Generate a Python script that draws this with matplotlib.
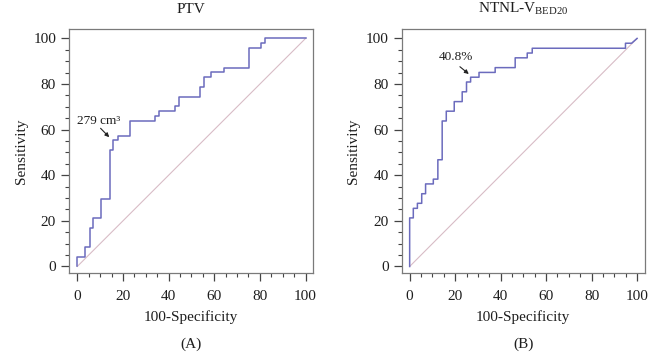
import numpy as np
import matplotlib
matplotlib.use("Agg")
import matplotlib.pyplot as plt
from matplotlib.ticker import MultipleLocator

plt.rcParams['font.family'] = ['Liberation Serif', 'DejaVu Serif']
plt.rcParams['mathtext.fontset'] = 'custom'
plt.rcParams['mathtext.rm'] = 'Liberation Serif'
plt.rcParams['mathtext.it'] = 'Liberation Serif:italic'

# Panel A: PTV
ptv_fpr = [0, 3.5, 5.5, 7.0, 10.5, 14.3, 15.8, 18.0, 23.0, 34.0, 35.6, 42.8, 44.4,
           53.6, 55.3, 58.8, 64.1, 75.2, 80.3, 82.2, 100]
ptv_tpr = [0, 4.3, 8.5, 17.0, 21.3, 29.8, 51.1, 55.3, 57.4, 63.8, 66.0, 68.1, 70.2,
           74.5, 78.7, 83.0, 85.1, 87.2, 95.7, 97.9, 100]

# Panel B: NTNL-V_BED20
ntnl_fpr = [0, 1.6, 3.4, 5.3, 7.0, 10.4, 12.4, 14.3, 16.1, 19.6, 23.1, 25.0, 26.8,
            30.5, 37.6, 46.4, 51.7, 53.9, 94.9, 97.6]
ntnl_tpr = [0, 21.3, 25.5, 27.7, 31.9, 36.2, 38.3, 46.8, 63.8, 68.1, 72.3, 76.6, 80.9,
            83.0, 85.1, 87.2, 91.5, 93.6, 95.7, 97.9]
ntnl_end = (100, 100)

titles = ["PTV", r"NTNL-V$_{\mathrm{BED20}}$"]
panel_labels = ["(A)", "(B)"]
annotations = ["279 cm³", "40.8%"]
ann_text_pos = [(9.5, 64.0), (20.5, 91.7)]
ann_arrow_tail = [(10.2, 60.6), (22.1, 87.6)]
ann_arrow_head = [(14.0, 56.7), (26.0, 84.4)]

ticks = [0, 20, 40, 60, 80, 100]

step_color = '#6b6bbd'
diag_color = '#d8bcc6'
frame_color = '#7a7a7a'
text_color = '#1e1e1e'
FS = 11

fig = plt.figure(figsize=(6.5, 3.62), dpi=100)
axA = fig.add_axes([0.1066, 0.245, 0.3754, 0.674])
axB = fig.add_axes([0.618, 0.245, 0.374, 0.674])

def step_vertices(fx, ty):
    xs = [fx[0]]
    ys = [ty[0]]
    for i in range(1, len(fx)):
        xs += [fx[i - 1], fx[i]]
        ys += [ty[i], ty[i]]
    return xs, ys

for k, ax in enumerate([axA, axB]):
    if k == 0:
        xs, ys = step_vertices(ptv_fpr, ptv_tpr)
    else:
        xs, ys = step_vertices(ntnl_fpr, ntnl_tpr)
        xs.append(ntnl_end[0])
        ys.append(ntnl_end[1])
    ax.plot([0, 100], [0, 100], color=diag_color, lw=0.8, zorder=1)
    ax.plot(xs, ys, color=step_color, lw=1.1, zorder=2)
    ax.set_xlim(-3.5, 103.4)
    ax.set_ylim(-3.0, 104.0)
    ax.set_xticks(ticks)
    ax.set_yticks(ticks)
    ax.xaxis.set_minor_locator(MultipleLocator(5))
    ax.yaxis.set_minor_locator(MultipleLocator(5))
    ax.tick_params(which='major', direction='out', length=5.5, width=0.9,
                   color='#444444', labelsize=FS, labelcolor=text_color)
    ax.tick_params(axis='x', which='major', pad=6.5)
    ax.tick_params(axis='y', which='major', pad=4)
    ax.tick_params(which='minor', direction='out', length=2.8, width=0.8, color='#444444')
    for s in ax.spines.values():
        s.set_color(frame_color)
        s.set_linewidth(0.9)
    ax.set_title(titles[k], fontsize=FS, pad=12, color=text_color)
    ax.set_xlabel("100-Specificity", fontsize=FS, color=text_color, labelpad=5)
    ax.set_ylabel("Sensitivity", fontsize=FS, color=text_color, labelpad=4)
    ax.text(0.5, -0.29, panel_labels[k], transform=ax.transAxes, ha='center',
            va='center', fontsize=FS, color=text_color)
    ax.annotate("", xy=ann_arrow_head[k], xytext=ann_arrow_tail[k],
                arrowprops=dict(arrowstyle='-|>', color='#222222', lw=0.8,
                                mutation_scale=6, shrinkA=0, shrinkB=0))
    ax.text(ann_text_pos[k][0], ann_text_pos[k][1], annotations[k], ha='center',
            va='center', fontsize=9.5, color=text_color)

fig.savefig("out.png", dpi=100)
